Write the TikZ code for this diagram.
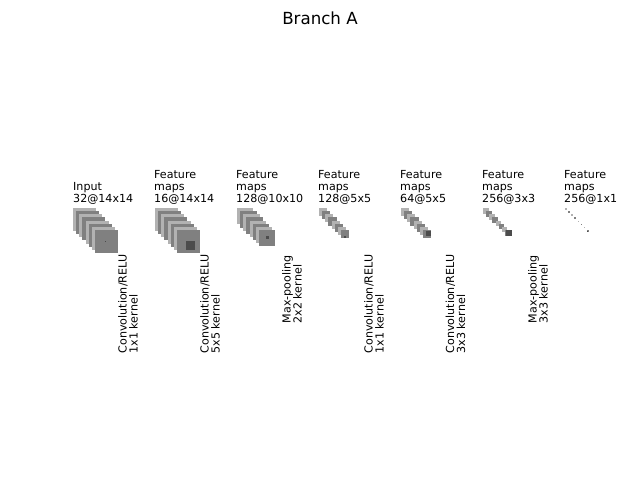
\documentclass[tikz,border=0pt]{standalone}
\usepackage{fontspec}
\setmainfont{DejaVu Sans}
\definecolor{lightmap}{gray}{0.7}
\definecolor{medmap}{gray}{0.5}
\definecolor{darkmap}{gray}{0.3}
\tikzset{
  layerlabel/.style={anchor=south west,inner sep=0pt,align=left,font=\fontsize{11.1}{12}\selectfont},
  oplabel/.style={anchor=north west,inner sep=0pt,align=left,rotate=90,font=\fontsize{11.1}{11}\selectfont},
  titlelabel/.style={anchor=center,inner sep=0pt,font=\fontsize{16.67}{20}\selectfont},
}
% \mapstack{x}{size}{kernel x}{kernel y}{kernel size}
\newcommand{\mapstack}[5]{%
  \foreach \i/\c in {0/lightmap,1/medmap,2/lightmap,3/medmap,4/lightmap,5/medmap,6/lightmap,7/medmap}{
    \fill[\c] ({#1+\i*3.143},{208+\i*3.143}) rectangle ++(#2,#2);
  }
  \fill[darkmap] (#3,#4) rectangle ++(#5,#5);
}
\begin{document}
\begin{tikzpicture}[x=1pt,y=-1pt]
\useasboundingbox (0,0) rectangle (640,480);
\node[titlelabel] (title) at (320,18) {Branch A};

\mapstack{73}{23}{105}{241}{0.8}
\mapstack{155}{23}{186}{241}{9}
\mapstack{237}{16.4}{266}{236}{3}
\mapstack{319}{8.2}{344}{236}{1.8}
\mapstack{401}{8.2}{426}{230.5}{5}
\mapstack{483}{5.5}{506}{230}{6}
\mapstack{565}{1.6}{587}{231}{1}

\node[layerlabel] (l1) at (73,205) {Input\\32@14x14};
\node[layerlabel] (l2) at (154,205) {Feature\\maps\\16@14x14};
\node[layerlabel] (l3) at (236,205) {Feature\\maps\\128@10x10};
\node[layerlabel] (l4) at (318,205) {Feature\\maps\\128@5x5};
\node[layerlabel] (l5) at (400,205) {Feature\\maps\\64@5x5};
\node[layerlabel] (l6) at (482,205) {Feature\\maps\\256@3x3};
\node[layerlabel] (l7) at (564,205) {Feature\\maps\\256@1x1};

\node[oplabel] (o1) at (118,353.5) {Convolution/RELU\\1x1 kernel};
\node[oplabel] (o2) at (200,353.5) {Convolution/RELU\\5x5 kernel};
\node[oplabel] (o3) at (282,323.5) {Max-pooling\\2x2 kernel};
\node[oplabel] (o4) at (364,353.5) {Convolution/RELU\\1x1 kernel};
\node[oplabel] (o5) at (445.5,353.5) {Convolution/RELU\\3x3 kernel};
\node[oplabel] (o6) at (528,323.5) {Max-pooling\\3x3 kernel};
\end{tikzpicture}
\end{document}
